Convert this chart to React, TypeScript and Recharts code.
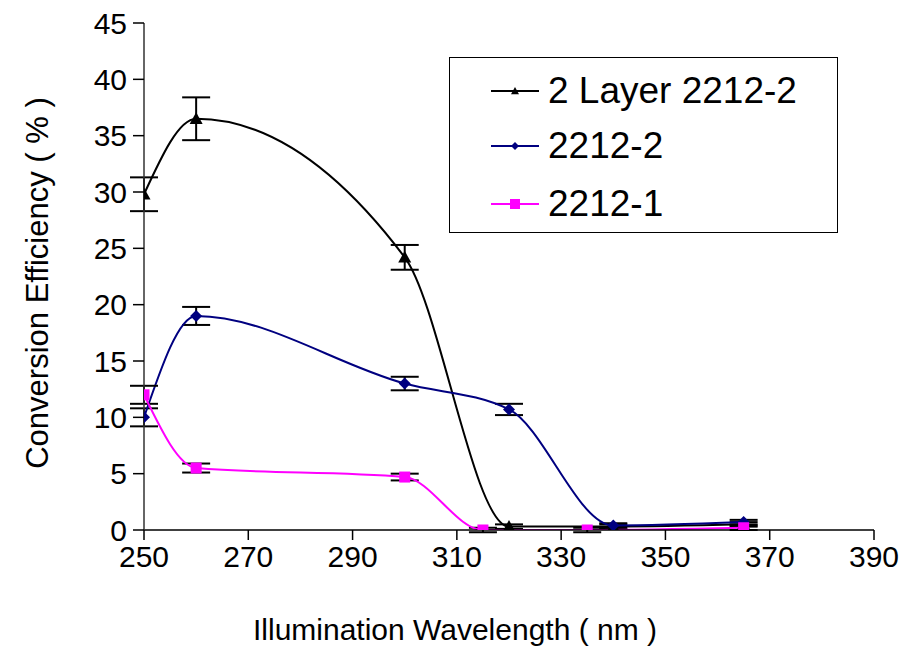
import React from "react";
import {
  LineChart,
  Line,
  XAxis,
  YAxis,
  ErrorBar,
  Legend,
} from "recharts";

// wavelengths (nm) and efficiencies (%)
const LAYER_X = [250, 260, 300, 320, 340, 365];
const LAYER_Y = [29.8, 36.5, 24.2, 0.3, 0.3, 0.5];
const LAYER_ERR = [1.5, 1.9, 1.1, 0.2, 0.2, 0.2];

const S2_X = [250, 260, 300, 320, 340, 365];
const S2_Y = [10, 19, 13, 10.7, 0.4, 0.7];
const S2_ERR = [0.8, 0.8, 0.6, 0.5, 0.2, 0.2];

const S1_X = [250, 260, 300, 315, 335, 365];
const S1_Y = [12, 5.5, 4.7, 0, 0, 0.2];
const S1_ERR = [0.8, 0.4, 0.3, 0.2, 0.2, 0.2];

const X_TICKS = [250, 270, 290, 310, 330, 350, 370, 390];
const Y_TICKS = [0, 5, 10, 15, 20, 25, 30, 35, 40, 45];

const SERIES = [
  { name: "2 Layer 2212-2", color: "#000000", shape: "triangle" },
  { name: "2212-2", color: "#000080", shape: "diamond" },
  { name: "2212-1", color: "#FF00FF", shape: "square" },
];

const FONT = '"Liberation Sans", Arial, sans-serif';

const toRows = (xs: number[], ys: number[], errs: number[]) =>
  xs.map((x, i) => ({ x, y: ys[i], err: errs[i] }));

const layerData = toRows(LAYER_X, LAYER_Y, LAYER_ERR);
const s2Data = toRows(S2_X, S2_Y, S2_ERR);
const s1Data = toRows(S1_X, S1_Y, S1_ERR);

const Marker = ({
  cx,
  cy,
  shape,
  color,
  size,
}: {
  cx: number;
  cy: number;
  shape: string;
  color: string;
  size: number;
}) => {
  const h = size / 2;
  if (shape === "triangle") {
    return (
      <polygon
        points={`${cx},${cy - h} ${cx + h},${cy + h * 0.8} ${cx - h},${cy + h * 0.8}`}
        fill={color}
      />
    );
  }
  if (shape === "diamond") {
    return (
      <polygon
        points={`${cx},${cy - h} ${cx + h},${cy} ${cx},${cy + h} ${cx - h},${cy}`}
        fill={color}
      />
    );
  }
  return <rect x={cx - h} y={cy - h} width={size} height={size} fill={color} />;
};

const makeDot = (shape: string, color: string, size: number) => (props: any) => {
  const { cx, cy, index } = props;
  if (cx == null || cy == null) return <g key={index} />;
  return (
    <g key={index}>
      <Marker cx={cx} cy={cy} shape={shape} color={color} size={size} />
    </g>
  );
};

const LegendBox = () => (
  <div
    style={{
      position: "relative",
      width: 387,
      height: 174,
      border: "1.5px solid #000",
      background: "#fff",
      boxSizing: "content-box",
      fontFamily: FONT,
    }}
  >
    {SERIES.map((s, i) => (
      <div
        key={s.name}
        style={{
          position: "absolute",
          left: 40,
          top: [33, 88, 146][i] - 20,
          height: 40,
          display: "flex",
          alignItems: "center",
        }}
      >
        <svg width={50} height={20}>
          <line x1={1} y1={10} x2={49} y2={10} stroke={s.color} strokeWidth={2} />
          <Marker
            cx={25}
            cy={10}
            shape={s.shape}
            color={s.color}
            size={s.shape === "square" ? 10 : 8}
          />
        </svg>
        <span style={{ fontSize: 37, marginLeft: 8, color: "#000", whiteSpace: "nowrap" }}>
          {s.name}
        </span>
      </div>
    ))}
  </div>
);

const tickStyle = { fontSize: 30, fill: "#000", fontFamily: FONT };

export default function App() {
  return (
    <div style={{ position: "absolute", left: 0, top: 0, background: "#fff" }}>
      <LineChart
        width={909}
        height={661}
        margin={{ top: 23, right: 35, bottom: 0, left: 0 }}
      >
        <XAxis
          type="number"
          dataKey="x"
          domain={[250, 390]}
          ticks={X_TICKS}
          interval={0}
          allowDataOverflow
          height={131}
          tickSize={10}
          tickMargin={6}
          tick={tickStyle}
          axisLine={{ stroke: "#000", strokeWidth: 1.5 }}
          tickLine={{ stroke: "#000", strokeWidth: 1.5 }}
          label={{
            content: () => (
              <text
                x={455}
                y={640}
                textAnchor="middle"
                fontSize={30}
                fontFamily={FONT}
                fill="#000"
              >
                Illumination Wavelength ( nm )
              </text>
            ),
          }}
        />
        <YAxis
          type="number"
          domain={[0, 45]}
          ticks={Y_TICKS}
          interval={0}
          allowDataOverflow
          width={144}
          tickSize={11}
          tickMargin={6}
          tick={tickStyle}
          axisLine={{ stroke: "#333", strokeWidth: 1.5 }}
          tickLine={{ stroke: "#000", strokeWidth: 1.5 }}
          label={{
            content: () => (
              <text
                x={48}
                y={283}
                transform="rotate(-90 48 283)"
                textAnchor="middle"
                fontSize={31}
                fontFamily={FONT}
                fill="#000"
              >
                Conversion Efficiency ( % )
              </text>
            ),
          }}
        />
        <Legend
          layout="horizontal"
          align="center"
          verticalAlign="middle"
          content={<LegendBox />}
          wrapperStyle={{ position: "absolute", left: 449, top: 57, width: 390, height: 177 }}
        />
        <Line
          data={layerData}
          dataKey="y"
          name={SERIES[0].name}
          type="monotoneX"
          stroke={SERIES[0].color}
          strokeWidth={2}
          dot={makeDot("triangle", SERIES[0].color, 13)}
          activeDot={false}
          isAnimationActive={false}
        >
          <ErrorBar dataKey="err" direction="y" width={14} stroke="#000" strokeWidth={2} isAnimationActive={false} />
        </Line>
        <Line
          data={s2Data}
          dataKey="y"
          name={SERIES[1].name}
          type="monotoneX"
          stroke={SERIES[1].color}
          strokeWidth={2}
          dot={makeDot("diamond", SERIES[1].color, 12)}
          activeDot={false}
          isAnimationActive={false}
        >
          <ErrorBar dataKey="err" direction="y" width={14} stroke="#000" strokeWidth={2} isAnimationActive={false} />
        </Line>
        <Line
          data={s1Data}
          dataKey="y"
          name={SERIES[2].name}
          type="monotoneX"
          stroke={SERIES[2].color}
          strokeWidth={2}
          dot={makeDot("square", SERIES[2].color, 11)}
          activeDot={false}
          isAnimationActive={false}
        >
          <ErrorBar dataKey="err" direction="y" width={14} stroke="#000" strokeWidth={2} isAnimationActive={false} />
        </Line>
      </LineChart>
    </div>
  );
}
